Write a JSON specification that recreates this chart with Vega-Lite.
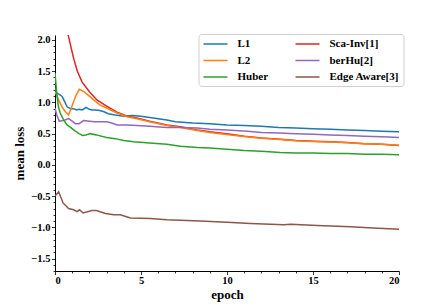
{
  "$schema": "https://vega.github.io/schema/vega-lite/v6.json",
  "autosize": "none",
  "width": 344,
  "height": 236,
  "padding": {"left": 55, "top": 35, "right": 44, "bottom": 34},
  "background": "white",
  "config": {
    "view": {"stroke": null},
    "font": "Liberation Serif",
    "axis": {
      "grid": false,
      "domainColor": "black",
      "domainWidth": 1,
      "tickColor": "black",
      "tickWidth": 0.8,
      "labelFont": "Liberation Serif",
      "labelFontWeight": "bold",
      "labelFontSize": 10.5,
      "labelColor": "black",
      "titleFont": "Liberation Serif",
      "titleFontWeight": "bold",
      "titleFontSize": 13,
      "titleColor": "black",
      "labelOverlap": false
    }
  },
  "data": {
    "values": [
      {"epoch": 0, "loss": 1.23, "method": "L1"},
      {"epoch": 0.1, "loss": 1.15, "method": "L1"},
      {"epoch": 0.25, "loss": 1.13, "method": "L1"},
      {"epoch": 0.4, "loss": 1.1, "method": "L1"},
      {"epoch": 0.55, "loss": 1.02, "method": "L1"},
      {"epoch": 0.7, "loss": 0.93, "method": "L1"},
      {"epoch": 0.9, "loss": 0.9, "method": "L1"},
      {"epoch": 1.08, "loss": 0.9, "method": "L1"},
      {"epoch": 1.25, "loss": 0.88, "method": "L1"},
      {"epoch": 1.4, "loss": 0.89, "method": "L1"},
      {"epoch": 1.6, "loss": 0.88, "method": "L1"},
      {"epoch": 1.8, "loss": 0.92, "method": "L1"},
      {"epoch": 2.0, "loss": 0.89, "method": "L1"},
      {"epoch": 2.15, "loss": 0.88, "method": "L1"},
      {"epoch": 2.4, "loss": 0.88, "method": "L1"},
      {"epoch": 2.6, "loss": 0.87, "method": "L1"},
      {"epoch": 2.85, "loss": 0.85, "method": "L1"},
      {"epoch": 3.1, "loss": 0.82, "method": "L1"},
      {"epoch": 3.5, "loss": 0.8, "method": "L1"},
      {"epoch": 4.0, "loss": 0.78, "method": "L1"},
      {"epoch": 4.5, "loss": 0.79, "method": "L1"},
      {"epoch": 5.0, "loss": 0.78, "method": "L1"},
      {"epoch": 5.5, "loss": 0.76, "method": "L1"},
      {"epoch": 6.0, "loss": 0.74, "method": "L1"},
      {"epoch": 6.5, "loss": 0.72, "method": "L1"},
      {"epoch": 7.0, "loss": 0.69, "method": "L1"},
      {"epoch": 8.0, "loss": 0.67, "method": "L1"},
      {"epoch": 9.0, "loss": 0.66, "method": "L1"},
      {"epoch": 10.0, "loss": 0.64, "method": "L1"},
      {"epoch": 11.0, "loss": 0.63, "method": "L1"},
      {"epoch": 12.0, "loss": 0.62, "method": "L1"},
      {"epoch": 13.0, "loss": 0.6, "method": "L1"},
      {"epoch": 14.0, "loss": 0.59, "method": "L1"},
      {"epoch": 15.0, "loss": 0.58, "method": "L1"},
      {"epoch": 16.0, "loss": 0.57, "method": "L1"},
      {"epoch": 17.0, "loss": 0.56, "method": "L1"},
      {"epoch": 18.0, "loss": 0.55, "method": "L1"},
      {"epoch": 19.0, "loss": 0.54, "method": "L1"},
      {"epoch": 20.0, "loss": 0.53, "method": "L1"},

      {"epoch": 0.5, "loss": 2.45, "method": "Sca-Inv[1]"},
      {"epoch": 0.79, "loss": 2.05, "method": "Sca-Inv[1]"},
      {"epoch": 1.08, "loss": 1.71, "method": "Sca-Inv[1]"},
      {"epoch": 1.3, "loss": 1.5, "method": "Sca-Inv[1]"},
      {"epoch": 1.57, "loss": 1.33, "method": "Sca-Inv[1]"},
      {"epoch": 2.0, "loss": 1.17, "method": "Sca-Inv[1]"},
      {"epoch": 2.44, "loss": 1.04, "method": "Sca-Inv[1]"},
      {"epoch": 3.0, "loss": 0.94, "method": "Sca-Inv[1]"},
      {"epoch": 3.6, "loss": 0.845, "method": "Sca-Inv[1]"},
      {"epoch": 4.2, "loss": 0.78, "method": "Sca-Inv[1]"},
      {"epoch": 4.77, "loss": 0.75, "method": "Sca-Inv[1]"},
      {"epoch": 5.5, "loss": 0.7, "method": "Sca-Inv[1]"},
      {"epoch": 6.5, "loss": 0.64, "method": "Sca-Inv[1]"},
      {"epoch": 7.3, "loss": 0.61, "method": "Sca-Inv[1]"},
      {"epoch": 8.27, "loss": 0.56, "method": "Sca-Inv[1]"},
      {"epoch": 9.0, "loss": 0.53, "method": "Sca-Inv[1]"},
      {"epoch": 10.2, "loss": 0.49, "method": "Sca-Inv[1]"},
      {"epoch": 11.0, "loss": 0.46, "method": "Sca-Inv[1]"},
      {"epoch": 12.0, "loss": 0.43, "method": "Sca-Inv[1]"},
      {"epoch": 13.1, "loss": 0.41, "method": "Sca-Inv[1]"},
      {"epoch": 14.0, "loss": 0.39, "method": "Sca-Inv[1]"},
      {"epoch": 15.0, "loss": 0.38, "method": "Sca-Inv[1]"},
      {"epoch": 16.0, "loss": 0.37, "method": "Sca-Inv[1]"},
      {"epoch": 17.0, "loss": 0.36, "method": "Sca-Inv[1]"},
      {"epoch": 18.0, "loss": 0.34, "method": "Sca-Inv[1]"},
      {"epoch": 19.0, "loss": 0.33, "method": "Sca-Inv[1]"},
      {"epoch": 20.0, "loss": 0.31, "method": "Sca-Inv[1]"},

      {"epoch": 0, "loss": 1.17, "method": "L2"},
      {"epoch": 0.2, "loss": 1.05, "method": "L2"},
      {"epoch": 0.4, "loss": 0.93, "method": "L2"},
      {"epoch": 0.6, "loss": 0.85, "method": "L2"},
      {"epoch": 0.79, "loss": 0.8, "method": "L2"},
      {"epoch": 1.0, "loss": 0.95, "method": "L2"},
      {"epoch": 1.2, "loss": 1.1, "method": "L2"},
      {"epoch": 1.41, "loss": 1.21, "method": "L2"},
      {"epoch": 1.7, "loss": 1.17, "method": "L2"},
      {"epoch": 2.0, "loss": 1.1, "method": "L2"},
      {"epoch": 2.25, "loss": 1.04, "method": "L2"},
      {"epoch": 2.6, "loss": 0.96, "method": "L2"},
      {"epoch": 3.0, "loss": 0.91, "method": "L2"},
      {"epoch": 3.6, "loss": 0.83, "method": "L2"},
      {"epoch": 4.2, "loss": 0.77, "method": "L2"},
      {"epoch": 4.77, "loss": 0.74, "method": "L2"},
      {"epoch": 5.5, "loss": 0.69, "method": "L2"},
      {"epoch": 6.5, "loss": 0.63, "method": "L2"},
      {"epoch": 7.3, "loss": 0.6, "method": "L2"},
      {"epoch": 8.27, "loss": 0.55, "method": "L2"},
      {"epoch": 9.0, "loss": 0.52, "method": "L2"},
      {"epoch": 10.2, "loss": 0.48, "method": "L2"},
      {"epoch": 11.0, "loss": 0.455, "method": "L2"},
      {"epoch": 12.0, "loss": 0.425, "method": "L2"},
      {"epoch": 13.1, "loss": 0.405, "method": "L2"},
      {"epoch": 14.0, "loss": 0.385, "method": "L2"},
      {"epoch": 15.0, "loss": 0.375, "method": "L2"},
      {"epoch": 16.0, "loss": 0.365, "method": "L2"},
      {"epoch": 17.0, "loss": 0.355, "method": "L2"},
      {"epoch": 18.0, "loss": 0.34, "method": "L2"},
      {"epoch": 19.0, "loss": 0.33, "method": "L2"},
      {"epoch": 20.0, "loss": 0.315, "method": "L2"},

      {"epoch": 0, "loss": 0.91, "method": "berHu[2]"},
      {"epoch": 0.1, "loss": 0.8, "method": "berHu[2]"},
      {"epoch": 0.25, "loss": 0.7, "method": "berHu[2]"},
      {"epoch": 0.5, "loss": 0.71, "method": "berHu[2]"},
      {"epoch": 0.79, "loss": 0.74, "method": "berHu[2]"},
      {"epoch": 1.0, "loss": 0.7, "method": "berHu[2]"},
      {"epoch": 1.18, "loss": 0.66, "method": "berHu[2]"},
      {"epoch": 1.4, "loss": 0.66, "method": "berHu[2]"},
      {"epoch": 1.66, "loss": 0.71, "method": "berHu[2]"},
      {"epoch": 2.0, "loss": 0.7, "method": "berHu[2]"},
      {"epoch": 2.3, "loss": 0.69, "method": "berHu[2]"},
      {"epoch": 2.6, "loss": 0.69, "method": "berHu[2]"},
      {"epoch": 3.0, "loss": 0.69, "method": "berHu[2]"},
      {"epoch": 3.3, "loss": 0.67, "method": "berHu[2]"},
      {"epoch": 3.6, "loss": 0.64, "method": "berHu[2]"},
      {"epoch": 4.2, "loss": 0.64, "method": "berHu[2]"},
      {"epoch": 4.77, "loss": 0.63, "method": "berHu[2]"},
      {"epoch": 5.5, "loss": 0.62, "method": "berHu[2]"},
      {"epoch": 6.5, "loss": 0.6, "method": "berHu[2]"},
      {"epoch": 7.3, "loss": 0.6, "method": "berHu[2]"},
      {"epoch": 8.27, "loss": 0.59, "method": "berHu[2]"},
      {"epoch": 9.0, "loss": 0.57, "method": "berHu[2]"},
      {"epoch": 10.0, "loss": 0.56, "method": "berHu[2]"},
      {"epoch": 11.2, "loss": 0.54, "method": "berHu[2]"},
      {"epoch": 12.0, "loss": 0.52, "method": "berHu[2]"},
      {"epoch": 13.0, "loss": 0.51, "method": "berHu[2]"},
      {"epoch": 14.0, "loss": 0.5, "method": "berHu[2]"},
      {"epoch": 15.0, "loss": 0.49, "method": "berHu[2]"},
      {"epoch": 16.0, "loss": 0.48, "method": "berHu[2]"},
      {"epoch": 17.0, "loss": 0.47, "method": "berHu[2]"},
      {"epoch": 18.0, "loss": 0.46, "method": "berHu[2]"},
      {"epoch": 19.0, "loss": 0.45, "method": "berHu[2]"},
      {"epoch": 20.0, "loss": 0.44, "method": "berHu[2]"},

      {"epoch": 0, "loss": 1.47, "method": "Huber"},
      {"epoch": 0.1, "loss": 1.15, "method": "Huber"},
      {"epoch": 0.2, "loss": 0.93, "method": "Huber"},
      {"epoch": 0.3, "loss": 0.83, "method": "Huber"},
      {"epoch": 0.5, "loss": 0.72, "method": "Huber"},
      {"epoch": 0.7, "loss": 0.64, "method": "Huber"},
      {"epoch": 0.9, "loss": 0.6, "method": "Huber"},
      {"epoch": 1.18, "loss": 0.54, "method": "Huber"},
      {"epoch": 1.4, "loss": 0.5, "method": "Huber"},
      {"epoch": 1.6, "loss": 0.47, "method": "Huber"},
      {"epoch": 1.8, "loss": 0.48, "method": "Huber"},
      {"epoch": 2.05, "loss": 0.5, "method": "Huber"},
      {"epoch": 2.4, "loss": 0.48, "method": "Huber"},
      {"epoch": 3.0, "loss": 0.44, "method": "Huber"},
      {"epoch": 3.5, "loss": 0.42, "method": "Huber"},
      {"epoch": 4.0, "loss": 0.39, "method": "Huber"},
      {"epoch": 4.57, "loss": 0.37, "method": "Huber"},
      {"epoch": 5.5, "loss": 0.35, "method": "Huber"},
      {"epoch": 6.5, "loss": 0.33, "method": "Huber"},
      {"epoch": 7.3, "loss": 0.3, "method": "Huber"},
      {"epoch": 8.27, "loss": 0.28, "method": "Huber"},
      {"epoch": 9.0, "loss": 0.27, "method": "Huber"},
      {"epoch": 10.0, "loss": 0.25, "method": "Huber"},
      {"epoch": 11.0, "loss": 0.23, "method": "Huber"},
      {"epoch": 12.0, "loss": 0.22, "method": "Huber"},
      {"epoch": 13.1, "loss": 0.2, "method": "Huber"},
      {"epoch": 14.0, "loss": 0.19, "method": "Huber"},
      {"epoch": 15.0, "loss": 0.19, "method": "Huber"},
      {"epoch": 16.0, "loss": 0.18, "method": "Huber"},
      {"epoch": 17.0, "loss": 0.18, "method": "Huber"},
      {"epoch": 18.0, "loss": 0.17, "method": "Huber"},
      {"epoch": 19.0, "loss": 0.17, "method": "Huber"},
      {"epoch": 20.0, "loss": 0.16, "method": "Huber"},

      {"epoch": 0, "loss": -0.5, "method": "Edge Aware[3]"},
      {"epoch": 0.21, "loss": -0.43, "method": "Edge Aware[3]"},
      {"epoch": 0.47, "loss": -0.61, "method": "Edge Aware[3]"},
      {"epoch": 0.79, "loss": -0.7, "method": "Edge Aware[3]"},
      {"epoch": 1.08, "loss": -0.72, "method": "Edge Aware[3]"},
      {"epoch": 1.28, "loss": -0.75, "method": "Edge Aware[3]"},
      {"epoch": 1.43, "loss": -0.72, "method": "Edge Aware[3]"},
      {"epoch": 1.63, "loss": -0.77, "method": "Edge Aware[3]"},
      {"epoch": 2.15, "loss": -0.73, "method": "Edge Aware[3]"},
      {"epoch": 2.4, "loss": -0.73, "method": "Edge Aware[3]"},
      {"epoch": 2.93, "loss": -0.78, "method": "Edge Aware[3]"},
      {"epoch": 3.41, "loss": -0.8, "method": "Edge Aware[3]"},
      {"epoch": 3.8, "loss": -0.8, "method": "Edge Aware[3]"},
      {"epoch": 4.38, "loss": -0.85, "method": "Edge Aware[3]"},
      {"epoch": 5.55, "loss": -0.86, "method": "Edge Aware[3]"},
      {"epoch": 6.5, "loss": -0.88, "method": "Edge Aware[3]"},
      {"epoch": 8.46, "loss": -0.9, "method": "Edge Aware[3]"},
      {"epoch": 10.0, "loss": -0.92, "method": "Edge Aware[3]"},
      {"epoch": 11.37, "loss": -0.94, "method": "Edge Aware[3]"},
      {"epoch": 13.3, "loss": -0.96, "method": "Edge Aware[3]"},
      {"epoch": 13.7, "loss": -0.95, "method": "Edge Aware[3]"},
      {"epoch": 15.25, "loss": -0.97, "method": "Edge Aware[3]"},
      {"epoch": 17.2, "loss": -0.99, "method": "Edge Aware[3]"},
      {"epoch": 18.5, "loss": -1.01, "method": "Edge Aware[3]"},
      {"epoch": 20.0, "loss": -1.03, "method": "Edge Aware[3]"}
    ]
  },
  "mark": {"type": "line", "strokeWidth": 1.5, "clip": true},
  "encoding": {
    "x": {
      "field": "epoch",
      "type": "quantitative",
      "title": "epoch",
      "scale": {"domain": [0, 20], "nice": false, "zero": false},
      "axis": {
        "values": [0,1,2,3,4,5,6,7,8,9,10,11,12,13,14,15,16,17,18,19,20],
        "labelExpr": "datum.value % 5 === 0 ? format(datum.value, 'd') : ''",
        "tickSize": {"condition": {"test": "datum.value % 5 === 0", "value": 3.5}, "value": 2},
        "labelPadding": 1,
        "titlePadding": 2
      }
    },
    "y": {
      "field": "loss",
      "type": "quantitative",
      "title": "mean loss",
      "scale": {"domain": [-1.7, 2.08], "nice": false, "zero": false},
      "axis": {
        "values": [-1.7,-1.6,-1.5,-1.4,-1.3,-1.2,-1.1,-1.0,-0.9,-0.8,-0.7,-0.6,-0.5,-0.4,-0.3,-0.2,-0.1,0,0.1,0.2,0.3,0.4,0.5,0.6,0.7,0.8,0.9,1.0,1.1,1.2,1.3,1.4,1.5,1.6,1.7,1.8,1.9,2.0],
        "labelExpr": "abs(datum.value*2 - round(datum.value*2)) < 0.001 ? replace(format(datum.value, '.1f'), '-', '\u2212') : ''",
        "tickSize": {"condition": {"test": "abs(datum.value*2 - round(datum.value*2)) < 0.001", "value": 3.5}, "value": 2},
        "labelPadding": 1.5,
        "titlePadding": 4
      }
    },
    "color": {
      "field": "method",
      "type": "nominal",
      "sort": ["L1", "L2", "Huber", "Sca-Inv[1]", "berHu[2]", "Edge Aware[3]"],
      "scale": {
        "domain": ["L1", "L2", "Huber", "Sca-Inv[1]", "berHu[2]", "Edge Aware[3]"],
        "range": ["#1f77b4", "#ff7f0e", "#2ca02c", "#d62728", "#9467bd", "#8c564b"]
      },
      "legend": {
        "title": null,
        "orient": "none",
        "legendX": 143.5,
        "legendY": -1,
        "columns": 2,
        "columnPadding": 24,
        "rowPadding": 5.5,
        "padding": 4,
        "fillColor": "white",
        "strokeColor": "#d0d0d0",
        "cornerRadius": 3,
        "symbolType": "M-1,0H3.8",
        "symbolSize": 100,
        "symbolStrokeWidth": 1.5,
        "labelFont": "Liberation Serif",
        "labelFontWeight": "bold",
        "labelFontSize": 11,
        "labelColor": "black",
        "labelOffset": 23
      }
    }
  }
}
